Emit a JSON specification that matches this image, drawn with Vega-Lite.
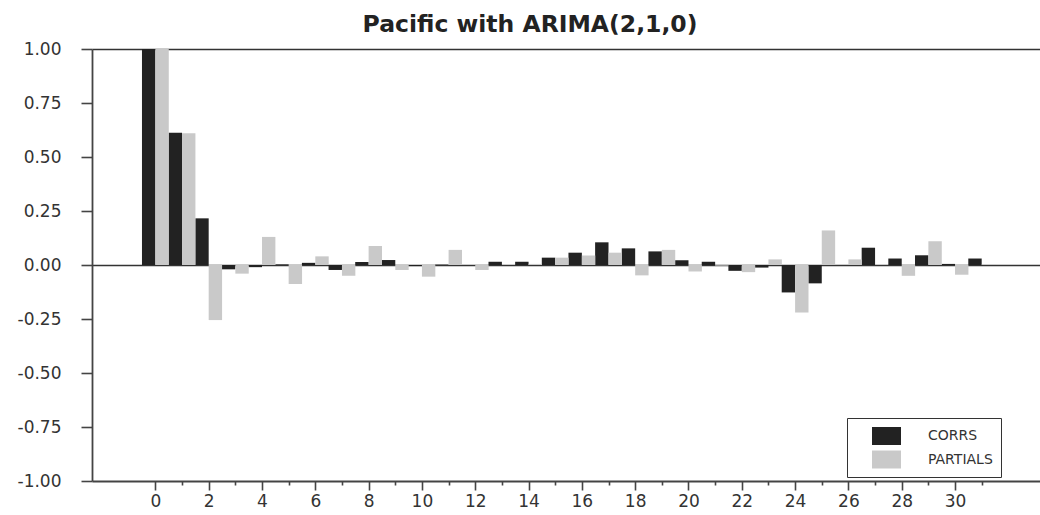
{
  "$schema": "https://vega.github.io/schema/vega-lite/v6.json",
  "autosize": "none",
  "width": 948,
  "height": 432,
  "padding": {"left": 92, "top": 49, "right": 0, "bottom": 34},
  "background": "white",
  "config": {
    "view": {"stroke": null},
    "font": "DejaVu Sans",
    "axis": {"domainColor": "#444", "domainWidth": 1.8, "tickColor": "#444", "tickWidth": 1.6, "labelColor": "#333", "labelFont": "DejaVu Sans", "labelFontSize": 17, "title": null}
  },
  "title": {
    "text": "Pacific with ARIMA(2,1,0)",
    "font": "DejaVu Sans",
    "fontSize": 23.5,
    "fontWeight": "bold",
    "color": "#222",
    "anchor": "middle",
    "dx": -36,
    "dy": 31,
    "baseline": "alphabetic",
    "offset": 16
  },
  "data": {
    "values": [
      {"lag": 0, "series": "CORRS", "value": 1.0}, {"lag": 0, "series": "PARTIALS", "value": 1.0},
      {"lag": 1, "series": "CORRS", "value": 0.612}, {"lag": 1, "series": "PARTIALS", "value": 0.61},
      {"lag": 2, "series": "CORRS", "value": 0.216}, {"lag": 2, "series": "PARTIALS", "value": -0.255},
      {"lag": 3, "series": "CORRS", "value": -0.02}, {"lag": 3, "series": "PARTIALS", "value": -0.04},
      {"lag": 4, "series": "CORRS", "value": -0.01}, {"lag": 4, "series": "PARTIALS", "value": 0.13},
      {"lag": 5, "series": "CORRS", "value": 0.003}, {"lag": 5, "series": "PARTIALS", "value": -0.088},
      {"lag": 6, "series": "CORRS", "value": 0.01}, {"lag": 6, "series": "PARTIALS", "value": 0.04},
      {"lag": 7, "series": "CORRS", "value": -0.023}, {"lag": 7, "series": "PARTIALS", "value": -0.05},
      {"lag": 8, "series": "CORRS", "value": 0.014}, {"lag": 8, "series": "PARTIALS", "value": 0.088},
      {"lag": 9, "series": "CORRS", "value": 0.023}, {"lag": 9, "series": "PARTIALS", "value": -0.023},
      {"lag": 10, "series": "CORRS", "value": -0.005}, {"lag": 10, "series": "PARTIALS", "value": -0.054},
      {"lag": 11, "series": "CORRS", "value": 0.002}, {"lag": 11, "series": "PARTIALS", "value": 0.07},
      {"lag": 12, "series": "CORRS", "value": 0.0}, {"lag": 12, "series": "PARTIALS", "value": -0.023},
      {"lag": 13, "series": "CORRS", "value": 0.015}, {"lag": 13, "series": "PARTIALS", "value": 0.0},
      {"lag": 14, "series": "CORRS", "value": 0.015}, {"lag": 14, "series": "PARTIALS", "value": 0.005},
      {"lag": 15, "series": "CORRS", "value": 0.034}, {"lag": 15, "series": "PARTIALS", "value": 0.034},
      {"lag": 16, "series": "CORRS", "value": 0.057}, {"lag": 16, "series": "PARTIALS", "value": 0.044},
      {"lag": 17, "series": "CORRS", "value": 0.105}, {"lag": 17, "series": "PARTIALS", "value": 0.057},
      {"lag": 18, "series": "CORRS", "value": 0.077}, {"lag": 18, "series": "PARTIALS", "value": -0.048},
      {"lag": 19, "series": "CORRS", "value": 0.063}, {"lag": 19, "series": "PARTIALS", "value": 0.07},
      {"lag": 20, "series": "CORRS", "value": 0.022}, {"lag": 20, "series": "PARTIALS", "value": -0.03},
      {"lag": 21, "series": "CORRS", "value": 0.015}, {"lag": 21, "series": "PARTIALS", "value": -0.003},
      {"lag": 22, "series": "CORRS", "value": -0.027}, {"lag": 22, "series": "PARTIALS", "value": -0.033},
      {"lag": 23, "series": "CORRS", "value": -0.012}, {"lag": 23, "series": "PARTIALS", "value": 0.026},
      {"lag": 24, "series": "CORRS", "value": -0.127}, {"lag": 24, "series": "PARTIALS", "value": -0.22},
      {"lag": 25, "series": "CORRS", "value": -0.085}, {"lag": 25, "series": "PARTIALS", "value": 0.16},
      {"lag": 26, "series": "CORRS", "value": 0.0}, {"lag": 26, "series": "PARTIALS", "value": 0.026},
      {"lag": 27, "series": "CORRS", "value": 0.08}, {"lag": 27, "series": "PARTIALS", "value": 0.0},
      {"lag": 28, "series": "CORRS", "value": 0.03}, {"lag": 28, "series": "PARTIALS", "value": -0.05},
      {"lag": 29, "series": "CORRS", "value": 0.045}, {"lag": 29, "series": "PARTIALS", "value": 0.11},
      {"lag": 30, "series": "CORRS", "value": 0.005}, {"lag": 30, "series": "PARTIALS", "value": -0.045},
      {"lag": 31, "series": "CORRS", "value": 0.03}, {"lag": 31, "series": "PARTIALS", "value": 0.003}
    ]
  },
  "encoding": {
    "x": {
      "field": "lag",
      "type": "quantitative",
      "scale": {"domain": [-2.19, 33.0], "nice": false, "zero": false},
      "axis": {
        "values": [0,1,2,3,4,5,6,7,8,9,10,11,12,13,14,15,16,17,18,19,20,21,22,23,24,25,26,27,28,29,30,31],
        "grid": false,
        "tickSize": {"condition": {"test": "datum.value % 2 === 0", "value": 9}, "value": 4},
        "labelExpr": "datum.value % 2 === 0 ? datum.label : ''",
        "labelPadding": 3,
        "labelFlush": false,
        "labelOverlap": false
      }
    },
    "y": {
      "field": "value",
      "type": "quantitative",
      "scale": {"domain": [-1, 1], "nice": false},
      "axis": {
        "values": [-1, -0.75, -0.5, -0.25, 0, 0.25, 0.5, 0.75, 1],
        "format": ".2f",
        "labelExpr": "replace(datum.label, '\u2212', '-')",
        "tickSize": 11,
        "labelPadding": 20,
        "grid": true,
        "gridColor": "#333",
        "gridWidth": 1.6,
        "gridOpacity": {"condition": {"test": "datum.value === 0 || datum.value === 1", "value": 1}, "value": 0}
      }
    },
    "color": {
      "field": "series",
      "type": "nominal",
      "scale": {"domain": ["CORRS", "PARTIALS"], "range": ["#222222", "#c9c9c9"]},
      "legend": {
        "title": null,
        "orient": "none",
        "legendX": 755,
        "legendY": 369,
        "fillColor": "white",
        "strokeColor": "#333",
        "padding": 8,
        "symbolOffset": 21.5,
        "symbolType": "M-1.45,-0.9H1.45V0.9H-1.45Z",
        "symbolSize": 400,
        "symbolStrokeWidth": 0,
        "labelOffset": 31.5,
        "labelFont": "DejaVu Sans",
        "labelFontSize": 14,
        "labelColor": "#333",
        "rowPadding": 4.5
      }
    }
  },
  "layer": [
    {
      "transform": [{"filter": "datum.series === 'CORRS'"}],
      "mark": {"type": "bar", "width": 13.4, "xOffset": -6.7}
    },
    {
      "transform": [{"filter": "datum.series === 'PARTIALS'"}],
      "mark": {"type": "bar", "width": 13.4, "xOffset": 6.7}
    }
  ]
}
